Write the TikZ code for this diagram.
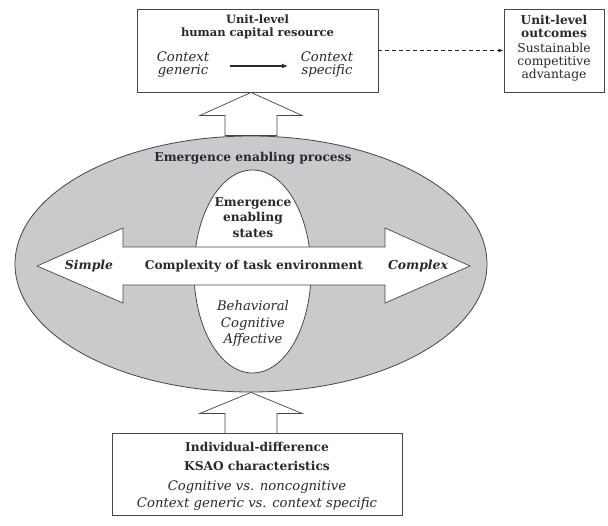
\documentclass[tikz,border=0pt]{standalone}
\usepackage{fontspec}
\setmainfont{DejaVu Serif}
\usetikzlibrary{arrows.meta,shapes.geometric}
\definecolor{procgray}{RGB}{201,202,204}
\definecolor{inkgray}{RGB}{70,70,72}
\definecolor{textink}{RGB}{40,40,48}
\begin{document}
\begin{tikzpicture}[x=1pt,y=-1pt,
    box/.style={draw=inkgray, fill=white, line width=0.9pt, inner sep=0pt},
    blockarrow/.style={draw=inkgray, fill=white, line width=0.7pt, line join=miter},
    lbl/.style={align=center, inner sep=0pt, text=textink,
      font=\fontsize{12.3}{13.5}\selectfont},
    head/.style={lbl, font=\fontsize{12.2}{13}\selectfont\bfseries},
    slant/.style={lbl, font=\fontsize{13.2}{13}\selectfont\itshape},
  ]
    \useasboundingbox (0,0) rectangle (608,525);

    % boxes
    \node[box, minimum width=241pt, minimum height=83pt] (hcr) at (257.5,50.5) {};
    \node[box, minimum width=100pt, minimum height=83pt] (outc) at (554,50.5) {};
    \node[box, minimum width=290pt, minimum height=82pt] (ksao) at (257,474) {};

    % emergence process
    \node[draw=inkgray, fill=procgray, line width=0.8pt, ellipse, inner sep=0pt,
      minimum width=472pt, minimum height=256pt] (proc) at (251,264) {};
    \node[draw=inkgray, fill=white, line width=0.8pt, ellipse, inner sep=0pt,
      minimum width=117pt, minimum height=203pt] (states) at (252.5,271.5) {};

    % block arrows
    \draw[blockarrow] (hcr.south -| proc.north) -- ++(51,23) -- ++(-25,0) -- ++(0,20)
      -- ++(-52,0) -- ++(0,-20) -- ++(-25,0) -- cycle;
    \draw[blockarrow] (proc.south) -- ++(51,21) -- ++(-25,0) -- ++(0,20)
      -- ++(-52,0) -- ++(0,-20) -- ++(-25,0) -- cycle;
    \draw[blockarrow] (37,266) -- (123,228) -- (123,247) -- (385,247) -- (385,228)
      -- (470,266) -- (385,303) -- (385,285) -- (123,285) -- (123,303) -- cycle;

    % top box
    \node[head, font=\fontsize{11.5}{13}\selectfont\bfseries] (hcrtitle) at (257.5,26.5) {Unit-level\\human capital resource};
    \node[slant] (ctxgen) at (183,64.5) {Context\\generic};
    \node[slant] (ctxspec) at (327,64.5) {Context\\specific};
    \draw[textink, line width=1.2pt, -{Latex[length=6pt,width=5pt]}] (230,66) -- (288,66);

    % outcomes box
    \node[head] (outctitle) at (554,26.5) {Unit-level\\outcomes};
    \node[lbl, font=\fontsize{12.3}{13}\selectfont] (outcbody) at (554,62) {Sustainable\\competitive\\advantage};
    \draw[textink, line width=0.8pt, dash pattern=on 4pt off 3pt, -{Latex[length=5pt,width=4pt]}]
      (hcr) -- (outc);

    % ellipse texts
    \node[head] (proctitle) at (253,158) {Emergence enabling process};
    \node[head, font=\fontsize{12.2}{15.5}\selectfont\bfseries] (statestitle) at (253,217.5) {Emergence\\enabling\\states};
    \node[slant, font=\fontsize{13.2}{16.5}\selectfont\itshape] (statesbody) at (253,323.5) {Behavioral\\Cognitive\\Affective};
    \node[head, font=\fontsize{12.4}{13}\selectfont\bfseries\itshape] (simple) at (89,266) {Simple};
    \node[head] (cplx) at (254,266) {Complexity of task environment};
    \node[head, font=\fontsize{12.4}{13}\selectfont\bfseries\itshape] (complex) at (418,266) {Complex};

    % bottom box
    \node[head, font=\fontsize{12.2}{19}\selectfont\bfseries] (ksaotitle) at (257,456.5) {Individual-difference\\KSAO characteristics};
    \node[slant, font=\fontsize{13.2}{17}\selectfont\itshape] (ksaobody) at (257,495.5) {Cognitive vs. noncognitive\\Context generic vs. context specific};

\end{tikzpicture}
\end{document}
